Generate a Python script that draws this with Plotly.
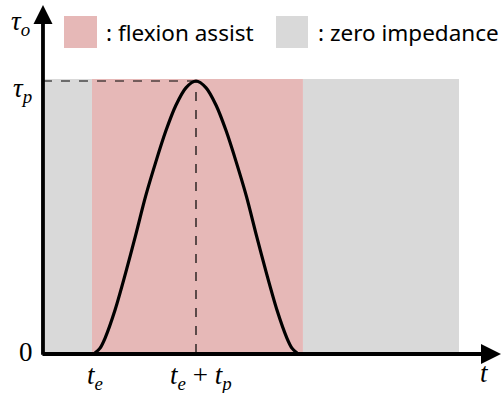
import plotly.graph_objects as go

# ---- data (t in units where t_e = 1, t_p = 1; torque normalised to tau_p = 1)
curve_t = [1.0, 1.05, 1.1, 1.2, 1.3, 1.4, 1.5, 1.6, 1.7, 1.8, 1.9, 2.0,
           2.1, 2.2, 2.3, 2.4, 2.5, 2.6, 2.7, 2.8, 2.9, 2.95, 3.0]
curve_tau = [0.0, 0.018, 0.055, 0.16, 0.29, 0.43, 0.575, 0.70, 0.815, 0.91, 0.975, 1.0,
             0.975, 0.91, 0.815, 0.70, 0.575, 0.43, 0.29, 0.16, 0.055, 0.018, 0.0]
t_e = 1.0
t_peak = 2.0
tau_p = 1.0
gray_left = [0.495, 0.970]
pink_region = [0.970, 3.059]
gray_right = [3.059, 4.604]
region_top = 1.007
y_axis_x = 0.485
x_tick_vals = [1.0, 2.05]
x_tick_text = ["<i>t</i><sub><i>e</i></sub>", "<i>t</i><sub><i>e</i></sub> + <i>t</i><sub><i>p</i></sub>"]
legend_labels = [": flexion assist", ": zero impedance"]

PINK = "#E6B8B7"
GRAY = "#D9D9D9"
W, H = 501, 393
PXU = 101.0
XR = [1 - 95 / PXU, 1 + (501 - 95) / PXU]
YR = [-40 / 272, 353 / 272]

fig = go.Figure()
fig.add_trace(go.Scatter(x=curve_t, y=curve_tau, mode="lines",
                         line=dict(color="black", width=3.2, shape="spline", smoothing=0.8),
                         hoverinfo="skip", showlegend=False))

shapes = []
for (x0, x1), c in [(gray_left, GRAY), (pink_region, PINK), (gray_right, GRAY)]:
    shapes.append(dict(type="rect", xref="x", yref="y", x0=x0, x1=x1, y0=0, y1=region_top,
                       fillcolor=c, line=dict(width=0), layer="below"))
# dashed guides
shapes.append(dict(type="line", xref="x", yref="y", x0=y_axis_x, x1=t_peak, y0=tau_p, y1=tau_p,
                   line=dict(color="black", width=1.2, dash="dash")))
shapes.append(dict(type="line", xref="x", yref="y", x0=t_peak, x1=t_peak, y0=0, y1=tau_p,
                   line=dict(color="black", width=1.2, dash="dash")))
# legend squares (paper coords)
def px(x): return x / W
def py(y): return 1 - y / H
shapes.append(dict(type="rect", xref="paper", yref="paper", x0=px(64), x1=px(97), y0=py(48), y1=py(16),
                   fillcolor=PINK, line=dict(width=0)))
shapes.append(dict(type="rect", xref="paper", yref="paper", x0=px(276), x1=px(308), y0=py(48), y1=py(16),
                   fillcolor=GRAY, line=dict(width=0)))

anns = []
# axes arrows
anns.append(dict(x=XR[1], y=-0.004, ax=y_axis_x - 0.02, ay=-0.004, xref="x", yref="y", axref="x", ayref="y",
                 showarrow=True, arrowhead=2, arrowsize=1, arrowwidth=4, arrowcolor="black", text=""))
anns.append(dict(x=y_axis_x, y=YR[1] - 5 / 272, ax=y_axis_x, ay=-0.012, xref="x", yref="y", axref="x", ayref="y",
                 showarrow=True, arrowhead=2, arrowsize=1, arrowwidth=3.8, arrowcolor="black", text=""))

serif = dict(family="Liberation Serif", size=27, color="black")
def label(x, y, text, xa="center", ya="middle"):
    anns.append(dict(x=px(x), y=py(y), xref="paper", yref="paper", text=text, showarrow=False,
                     font=serif, xanchor=xa, yanchor=ya))

label(20, 23, "<i>τ</i><sub><i>o</i></sub>")
label(22, 90, "<i>τ</i><sub><i>p</i></sub>")
label(26, 352, "0")
label(484, 373, "<i>t</i>")
for v, t in zip(x_tick_vals, x_tick_text):
    anns.append(dict(x=v, y=py(358), xref="x", yref="paper", text=t, showarrow=False,
                     font=serif, xanchor="center", yanchor="top"))

sans = dict(family="Noto Sans", size=22.5, color="black")
anns.append(dict(x=px(104), y=py(32), xref="paper", yref="paper", text=legend_labels[0], showarrow=False,
                 font=sans, xanchor="left", yanchor="middle"))
anns.append(dict(x=px(316), y=py(32), xref="paper", yref="paper", text=legend_labels[1], showarrow=False,
                 font=sans, xanchor="left", yanchor="middle"))

fig.update_layout(width=W, height=H, margin=dict(l=0, r=0, t=0, b=0),
                  paper_bgcolor="white", plot_bgcolor="white",
                  xaxis=dict(range=XR, visible=False, fixedrange=True),
                  yaxis=dict(range=YR, visible=False, fixedrange=True),
                  shapes=shapes, annotations=anns, showlegend=False)
fig.write_html("out.html", config={"displayModeBar": False},
               post_script="document.body.style.margin='0';document.body.style.overflow='hidden';")
